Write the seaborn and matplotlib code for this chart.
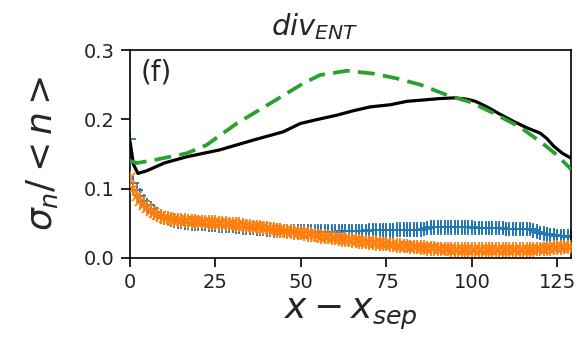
import numpy as np
import pandas as pd
import matplotlib
matplotlib.use("Agg")
import matplotlib.pyplot as plt
import seaborn as sns

# ---- data ----
x_pts = list(range(0, 130))

blue_vals = [
    0.172, 0.108, 0.098, 0.090, 0.082, 0.076, 0.071, 0.067, 0.063, 0.060,
    0.058, 0.056, 0.055, 0.054, 0.053, 0.052, 0.051, 0.051, 0.050, 0.050,
    0.049, 0.049, 0.049, 0.048, 0.048, 0.048, 0.047, 0.047, 0.047, 0.046,
    0.046, 0.045, 0.045, 0.044, 0.044, 0.043, 0.043, 0.042, 0.042, 0.042,
    0.041, 0.041, 0.040, 0.040, 0.040, 0.039, 0.039, 0.039, 0.038, 0.038,
    0.038, 0.038, 0.038, 0.038, 0.038, 0.038, 0.038, 0.038, 0.038, 0.038,
    0.038, 0.038, 0.039, 0.039, 0.039, 0.039, 0.039, 0.039, 0.039, 0.039,
    0.040, 0.040, 0.040, 0.040, 0.040, 0.040, 0.040, 0.040, 0.041, 0.041,
    0.041, 0.041, 0.041, 0.041, 0.041, 0.041, 0.042, 0.043, 0.044, 0.044,
    0.044, 0.044, 0.044, 0.044, 0.044, 0.044, 0.044, 0.044, 0.044, 0.044,
    0.044, 0.043, 0.043, 0.043, 0.043, 0.043, 0.043, 0.043, 0.043, 0.043,
    0.042, 0.042, 0.042, 0.042, 0.042, 0.042, 0.042, 0.042, 0.040, 0.038,
    0.036, 0.035, 0.034, 0.033, 0.033, 0.032, 0.032, 0.032, 0.031, 0.031,
]

orange_vals = [
    0.115, 0.100, 0.090, 0.082, 0.077, 0.072, 0.068, 0.065, 0.062, 0.060,
    0.058, 0.057, 0.056, 0.055, 0.055, 0.054, 0.054, 0.053, 0.053, 0.053,
    0.052, 0.052, 0.052, 0.051, 0.051, 0.051, 0.050, 0.050, 0.050, 0.049,
    0.049, 0.048, 0.048, 0.047, 0.046, 0.046, 0.045, 0.045, 0.044, 0.043,
    0.043, 0.042, 0.041, 0.040, 0.040, 0.039, 0.038, 0.038, 0.037, 0.036,
    0.036, 0.035, 0.034, 0.034, 0.033, 0.032, 0.031, 0.031, 0.030, 0.029,
    0.029, 0.028, 0.027, 0.027, 0.026, 0.025, 0.025, 0.024, 0.023, 0.023,
    0.022, 0.022, 0.021, 0.021, 0.020, 0.020, 0.019, 0.019, 0.018, 0.018,
    0.017, 0.017, 0.016, 0.016, 0.016, 0.015, 0.015, 0.014, 0.014, 0.014,
    0.013, 0.013, 0.013, 0.013, 0.012, 0.012, 0.012, 0.012, 0.012, 0.012,
    0.012, 0.012, 0.012, 0.012, 0.012, 0.012, 0.012, 0.012, 0.012, 0.012,
    0.012, 0.012, 0.012, 0.012, 0.012, 0.012, 0.012, 0.012, 0.012, 0.013,
    0.013, 0.013, 0.014, 0.014, 0.015, 0.015, 0.015, 0.016, 0.016, 0.016,
]

black_x = [0, 1, 2.3, 5, 10, 16.6, 26.3, 36, 44.8, 49.8, 55, 60.5, 65, 70.3,
           76.1, 81, 86, 90.7, 95, 98.6, 101, 104.4, 108, 112.2, 116, 120,
           122, 124, 126.5, 129]
black_y = [0.168, 0.135, 0.122, 0.126, 0.137, 0.146, 0.156, 0.170, 0.182,
           0.194, 0.200, 0.206, 0.212, 0.218, 0.221, 0.226, 0.228, 0.230,
           0.231, 0.229, 0.226, 0.218, 0.208, 0.197, 0.188, 0.180, 0.172,
           0.161, 0.151, 0.144]

green_x = [0, 2, 6.8, 16.6, 22.4, 31.2, 41, 50.7, 55.6, 63.4, 71.2, 78,
           84.9, 92.7, 99.5, 106.3, 114, 120, 125, 129]
green_y = [0.140, 0.137, 0.141, 0.151, 0.163, 0.194, 0.223, 0.252, 0.264,
           0.270, 0.266, 0.259, 0.250, 0.235, 0.225, 0.209, 0.189, 0.168,
           0.148, 0.128]

x_ticks = [0, 25, 50, 75, 100, 125]
y_ticks = [0.0, 0.1, 0.2, 0.3]

# ---- plotting ----
sns.set_theme(style="ticks")
plt.rcParams["font.family"] = ["DejaVu Sans"]
plt.rcParams["mathtext.fontset"] = "dejavusans"

fig = plt.figure(figsize=(5.81, 3.40), dpi=100)
ax = fig.add_axes([0.2238, 0.2412, 0.759, 0.6117])

ax.errorbar(x_pts, blue_vals, yerr=0.0105, fmt="+", ms=8, mew=1.3,
            color="#1f77b4", elinewidth=1.3, capsize=0, zorder=2)
ax.errorbar(x_pts, orange_vals, yerr=0.0105, fmt="x", ms=7, mew=1.3,
            color="#ff7f0e", elinewidth=1.3, capsize=0, zorder=3)

df_b = pd.DataFrame({"x": black_x, "y": black_y})
df_g = pd.DataFrame({"x": green_x, "y": green_y})
sns.lineplot(data=df_b, x="x", y="y", color="black", lw=2.3, ax=ax, zorder=4)
sns.lineplot(data=df_g, x="x", y="y", color="#2ca02c", lw=2.7, ax=ax,
             zorder=5, linestyle=(0, (4.5, 2.2)))

ax.set_xlim(0, 129)
ax.set_ylim(0, 0.3)
ax.set_xticks(x_ticks)
ax.set_yticks(y_ticks)
ax.set_yticklabels(["0.0", "0.1", "0.2", "0.3"])
ax.tick_params(labelsize=14, length=6.5, width=1.2, pad=4.5, color="black",
               labelcolor="#222222")
for s in ax.spines.values():
    s.set_linewidth(1.2)
    s.set_color("black")

ax.set_xlabel(r"$x - x_{sep}$", fontsize=26, labelpad=3)
ax.set_ylabel(r"$\sigma_n / < n >$", fontsize=26, labelpad=17)
ax.set_title(r"$div_{ENT}$", fontsize=21, x=0.42, pad=11)
ax.text(0.025, 0.96, "(f)", transform=ax.transAxes, fontsize=20,
        va="top", ha="left")

fig.savefig("out.png", dpi=100)
